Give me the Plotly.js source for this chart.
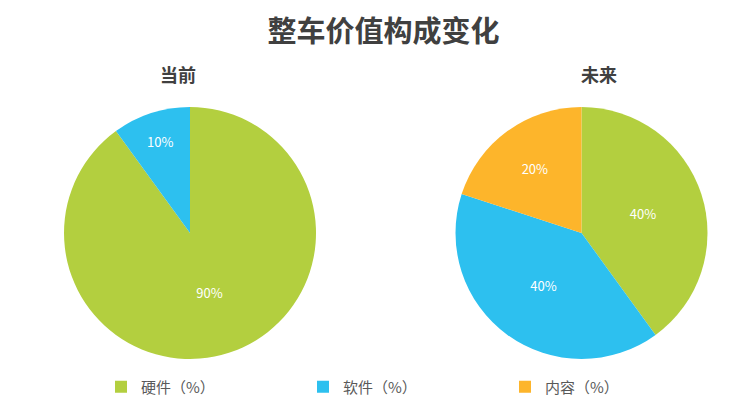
<!DOCTYPE html>
<html>
<head>
<meta charset="utf-8">
<script src="https://cdn.plot.ly/plotly-3.0.1.min.js"></script>
<style>html,body{margin:0;padding:0;background:#fff;}#chart{width:746px;height:412px;}</style>
</head>
<body>
<div id="chart"></div>
<script>
var chartTitle = '整车价值构成变化';
var pieTitles = ['当前', '未来'];
var categories = ['硬件（%）', '软件（%）', '内容（%）'];
var currentValues = [90, 10, 0];
var futureValues = [40, 40, 20];
var colors = ['#B3CF3F', '#2DC0EF', '#FDB52B'];

var font = '"Noto Sans CJK SC", "Noto Sans", sans-serif';

function pie(values, domainX) {
  return {
    type: 'pie',
    labels: categories,
    values: values,
    sort: false,
    direction: 'clockwise',
    rotation: 0,
    marker: {colors: colors, line: {width: 0}},
    textinfo: 'percent',
    textposition: 'inside',
    insidetextfont: {color: '#ffffff', size: 13, family: font},
    hoverinfo: 'none',
    domain: {x: domainX, y: [0.1286, 0.7403]}
  };
}

var data = [
  pie(currentValues, [0.0858, 0.4236]),
  pie(futureValues, [0.6106, 0.9484])
];

var layout = {
  width: 746, height: 412,
  margin: {l: 0, r: 0, t: 0, b: 0},
  paper_bgcolor: '#ffffff',
  font: {family: font},
  title: {
    text: '<b>' + chartTitle + '</b>',
    font: {size: 29, color: '#404040', family: font},
    x: 0.514, xanchor: 'center', y: 0.922, yanchor: 'middle'
  },
  annotations: [
    {text: '<b>' + pieTitles[0] + '</b>', x: 178 / 746, y: 1 - 74 / 412, xref: 'paper', yref: 'paper',
     showarrow: false, font: {size: 18, color: '#404040', family: font}, xanchor: 'center', yanchor: 'middle'},
    {text: '<b>' + pieTitles[1] + '</b>', x: 599 / 746, y: 1 - 74 / 412, xref: 'paper', yref: 'paper',
     showarrow: false, font: {size: 18, color: '#404040', family: font}, xanchor: 'center', yanchor: 'middle'}
  ],
  showlegend: true,
  legend: {
    orientation: 'h',
    x: 101 / 746, xanchor: 'left',
    y: 1 - 387 / 412, yanchor: 'middle',
    entrywidth: 157,
    font: {size: 15, color: '#595959', family: font},
    bgcolor: 'rgba(0,0,0,0)'
  }
};

Plotly.newPlot('chart', data, layout, {displayModeBar: false, staticPlot: true});
</script>
</body>
</html>
